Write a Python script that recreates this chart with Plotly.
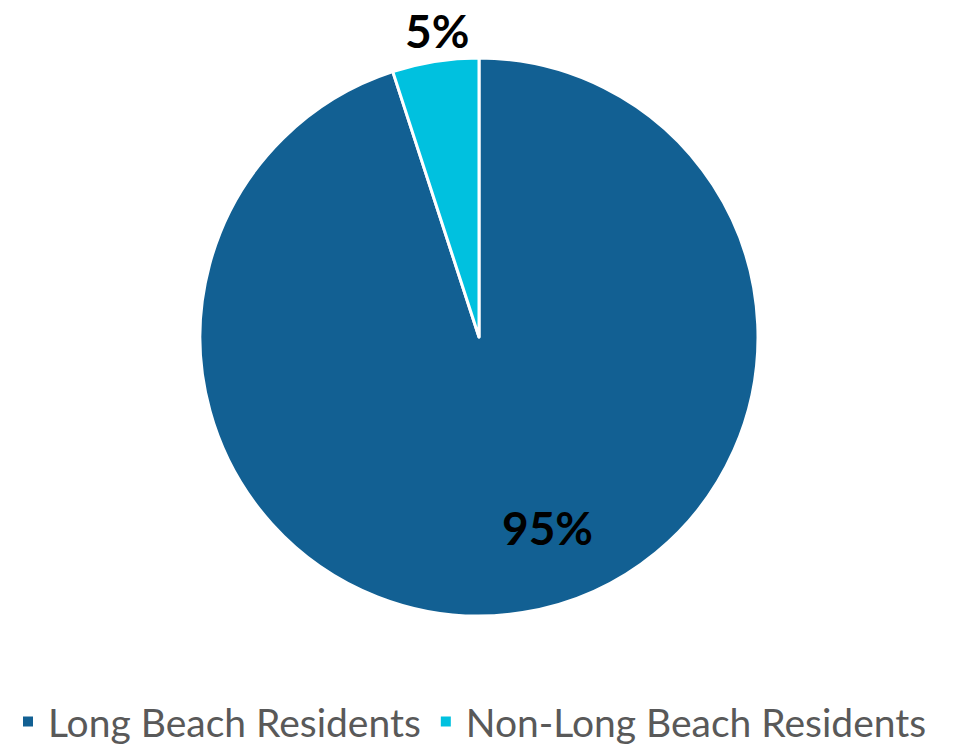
import plotly.graph_objects as go

LABELS = ["Long Beach Residents", "Non-Long Beach Residents"]
VALUES = [95, 5]
COLORS = ["#126093", "#00C1DF"]
# where the percentage labels sit (paper coords)
LABEL_POS = [(0.573, 0.159), (0.455, 1.050)]

fig = go.Figure(go.Pie(
    labels=LABELS,
    values=VALUES,
    sort=False,
    direction="clockwise",
    rotation=0,
    marker=dict(colors=COLORS, line=dict(color="white", width=3)),
    textinfo="none",
    hoverinfo="label+percent",
))

total = sum(VALUES)
for v, (px_, py_) in zip(VALUES, LABEL_POS):
    fig.add_annotation(
        x=px_, y=py_, xref="paper", yref="paper",
        xanchor="center", yanchor="middle",
        text=f"{v / total:.0%}", showarrow=False,
        font=dict(family="Lato", size=46, color="black", weight="bold"),
    )

fig.update_layout(
    width=969,
    height=744,
    paper_bgcolor="white",
    plot_bgcolor="white",
    margin=dict(l=0, r=27, t=50, b=136, autoexpand=False),
    showlegend=True,
    legend=dict(
        orientation="h",
        x=0.0, xanchor="left",
        y=-0.132, yanchor="top",
        font=dict(family="Lato", size=39, color="#595959"),
        itemsizing="constant",
    ),
)

fig.write_html("out.html")
